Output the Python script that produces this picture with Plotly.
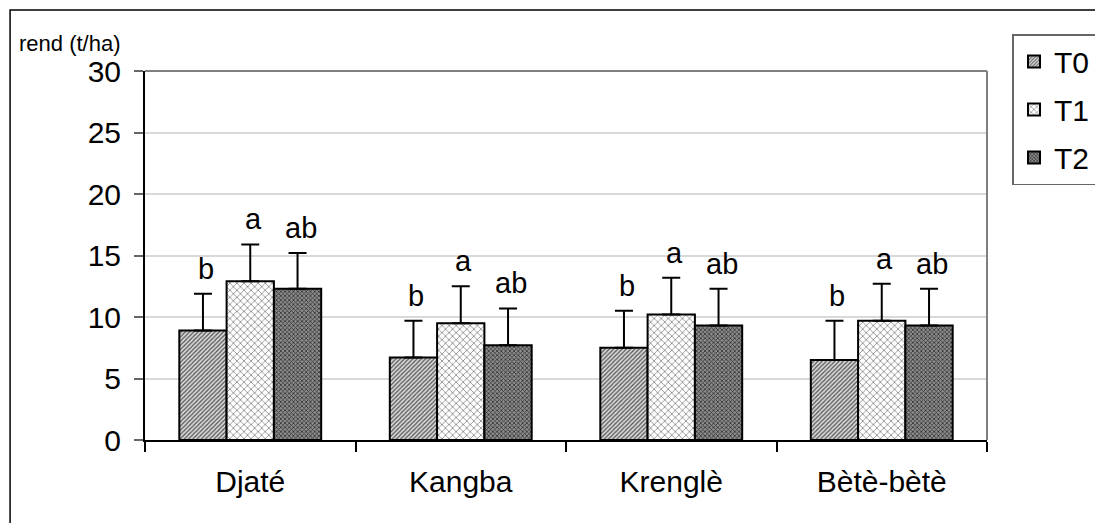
import plotly.graph_objects as go

categories = ["Djaté", "Kangba", "Krenglè", "Bètè-bètè"]
series_names = ["T0", "T1", "T2"]
t0 = [8.9, 6.7, 7.5, 6.5]
t1 = [12.9, 9.5, 10.2, 9.7]
t2 = [12.3, 7.7, 9.3, 9.3]
t0_err = [3.0, 3.0, 3.0, 3.2]
t1_err = [3.0, 3.0, 3.0, 3.0]
t2_err = [2.9, 3.0, 3.0, 3.0]
letters = ["b", "a", "ab"]
y_ticks = [0, 5, 10, 15, 20, 25, 30]

values = [t0, t1, t2]
errors = [t0_err, t1_err, t2_err]

W, H = 1095, 523
L, R, T, B = 145, 987.5, 71, 440

def px_x(p):
    return (p - L) / (R - L)

def px_y(p):
    return (B - p) / (B - T)

patterns = [
    dict(shape="/", size=3, solidity=0.42, fgcolor="#555555", bgcolor="#dadada", fillmode="replace"),
    dict(shape="x", size=5, solidity=0.3, fgcolor="#8a8a8a", bgcolor="#ffffff", fillmode="replace"),
    dict(shape="x", size=3, solidity=0.45, fgcolor="#2e2e2e", bgcolor="#8c8c8c", fillmode="replace"),
]

font = "Liberation Sans, Arial, sans-serif"

fig = go.Figure()
for i, name in enumerate(series_names):
    fig.add_trace(go.Bar(
        x=categories, y=values[i], name=name,
        legendgroup=name,
        marker=dict(color="#ffffff", pattern=patterns[i],
                    line=dict(color="black", width=2)),
        error_y=dict(type="data", symmetric=False, array=errors[i],
                     arrayminus=[0] * len(categories),
                     color="black", thickness=2, width=9),
    ))

# Significance letters above the error bars
cat_w = (R - L) / len(categories)
bar_w = cat_w * (1 - 0.326) / 3
for i in range(3):
    for j, c in enumerate(categories):
        fig.add_annotation(
            x=c, y=values[i][j] + errors[i][j], xref="x", yref="y",
            text=letters[i], showarrow=False, yanchor="bottom",
            xshift=(i - 1) * bar_w + 3, yshift=7,
            font=dict(family=font, size=29, color="black"),
        )

# Y axis title
fig.add_annotation(
    x=px_x(17), y=px_y(43), xref="paper", yref="paper",
    text="rend (t/ha)", showarrow=False, xanchor="left", yanchor="middle",
    font=dict(family=font, size=22, color="black"),
)

# Plot-area border (top and right, gray)
fig.add_shape(type="line", xref="paper", yref="paper", x0=0, x1=1, y0=1, y1=1,
              line=dict(color="#808080", width=2))
fig.add_shape(type="line", xref="paper", yref="paper", x0=1, x1=1, y0=0, y1=1,
              line=dict(color="#808080", width=2))
# Outer chart frame
fig.add_shape(type="rect", xref="paper", yref="paper",
              x0=px_x(10), x1=px_x(W + 20), y0=px_y(10), y1=px_y(H + 20),
              line=dict(color="black", width=1.5), fillcolor="rgba(0,0,0,0)")

fig.update_layout(
    width=W, height=H,
    margin=dict(l=L, r=W - R, t=T, b=H - B, pad=0, autoexpand=False),
    paper_bgcolor="white", plot_bgcolor="white",
    barmode="group", bargap=0.326, bargroupgap=0,
    font=dict(family=font, size=30, color="black"),
    showlegend=True,
    legend=dict(
        x=px_x(1013), y=px_y(34), xanchor="left", yanchor="top",
        bordercolor="#666666", borderwidth=1.5, bgcolor="white",
        font=dict(family=font, size=30, color="black"),
        tracegroupgap=6, itemwidth=30,
    ),
    xaxis=dict(
        type="category", tickson="boundaries", ticks="outside", ticklen=10,
        tickcolor="black", tickwidth=1.5, showline=True, linecolor="black",
        linewidth=2, showgrid=False, ticklabelstandoff=14,
        tickfont=dict(family=font, size=30, color="black"),
    ),
    yaxis=dict(
        range=[0, 30], tickvals=y_ticks, ticks="outside", ticklen=9,
        tickcolor="#666666", tickwidth=2, showline=True, linecolor="black",
        linewidth=2, showgrid=True, gridcolor="#d9d9d9", gridwidth=1.5,
        zeroline=False, ticklabelstandoff=7,
        tickfont=dict(family=font, size=30, color="black"),
    ),
)

fig.write_html("out.html", config={"displayModeBar": False},
               post_script="document.body.style.margin='0px';")
